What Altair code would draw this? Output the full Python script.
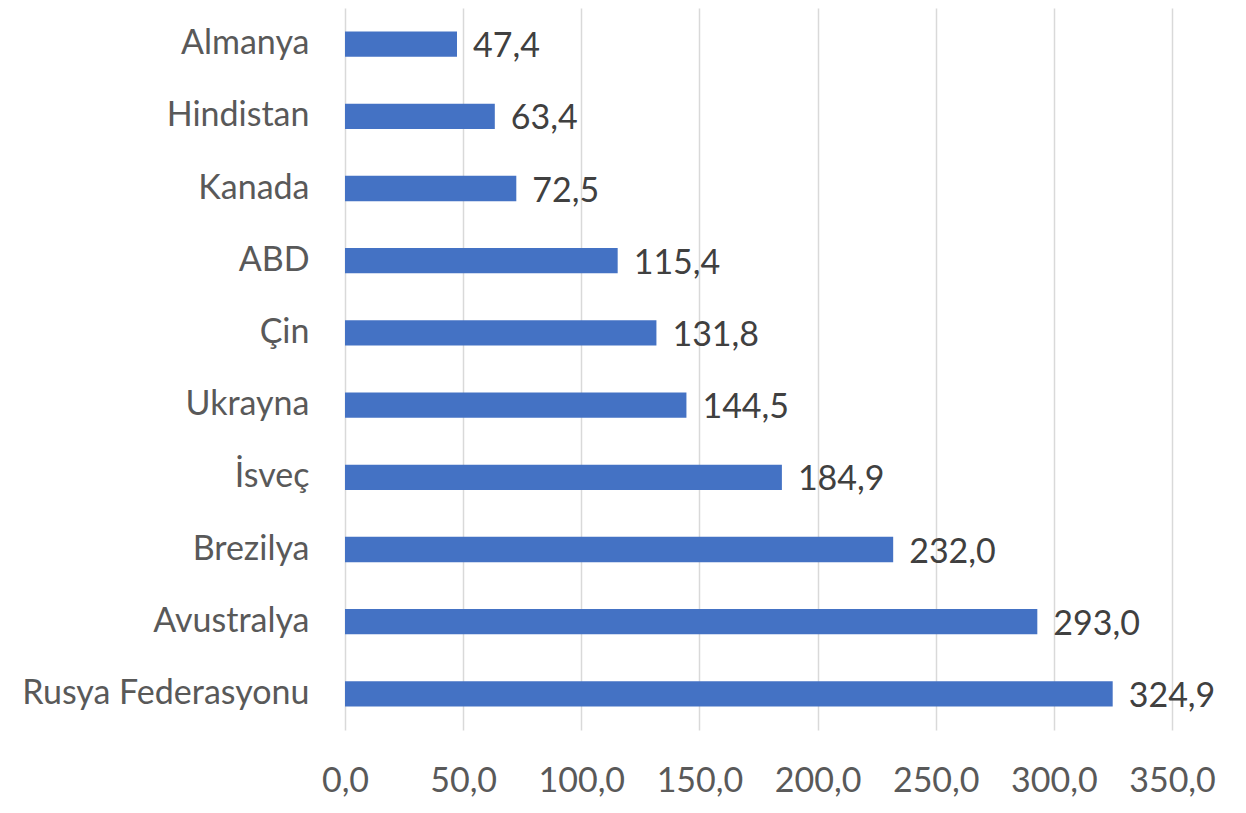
import altair as alt
import pandas as pd

countries = ["Almanya", "Hindistan", "Kanada", "ABD", "Çin", "Ukrayna",
             "İsveç", "Brezilya", "Avustralya", "Rusya Federasyonu"]
values = [47.4, 63.4, 72.5, 115.4, 131.8, 144.5, 184.9, 232.0, 293.0, 324.9]
x_ticks = [0, 50, 100, 150, 200, 250, 300, 350]

df = pd.DataFrame({"country": countries, "value": values})

FONT = "Lato"
FS = 34

base = alt.Chart(df).transform_calculate(
    label="replace(format(datum.value, '.1f'), '.', ',')"
)

y_enc = alt.Y("country:N", sort=countries, title=None,
              scale=alt.Scale(paddingInner=0.65, paddingOuter=0.325),
              axis=alt.Axis(labelFont=FONT, labelFontSize=FS, labelColor="#595959",
                            labelPadding=36, labelLimit=400,
                            ticks=False, domain=False, grid=False))

bars = base.mark_bar(color="#4472C4").encode(
    x=alt.X("value:Q", title=None,
            scale=alt.Scale(domain=[0, 350], nice=False),
            axis=alt.Axis(values=x_ticks, labelFont=FONT, labelFontSize=FS,
                          labelColor="#595959", labelPadding=34,
                          labelOverlap=False, labelFlush=False,
                          labelExpr="replace(format(datum.value, '.1f'), '.', ',')",
                          ticks=False, domain=False, grid=True,
                          gridColor="#d9d9d9", gridWidth=1.5)),
    y=y_enc,
)

text = base.mark_text(align="left", baseline="middle", dx=16, dy=3,
                      font=FONT, fontSize=FS, color="#404040").encode(
    x="value:Q",
    y=alt.Y("country:N", sort=countries),
    text="label:N",
)

chart = (bars + text).properties(
    width=827, height=722,
    autosize=alt.AutoSizeParams(type="none"),
    padding={"left": 337, "top": 0, "right": 60, "bottom": 74},
    background="white",
).configure_view(stroke=None)

chart.save("out.html", embed_options={"renderer": "svg", "actions": False})
